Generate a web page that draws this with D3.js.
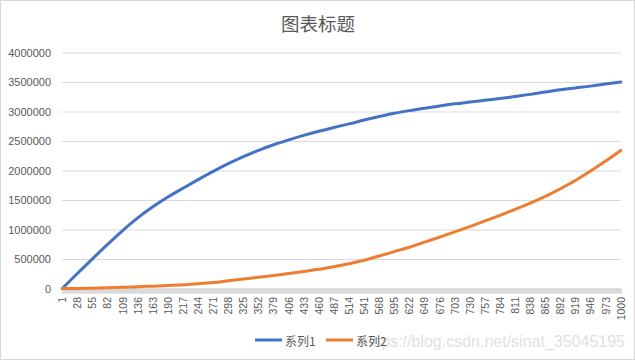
<!DOCTYPE html>
<html><head><meta charset="utf-8">
<script src="https://cdn.jsdelivr.net/npm/d3@7"></script>
<style>body{margin:0;background:#fff;overflow:hidden}</style>
</head><body><svg id="c" width="635" height="360"></svg>
<script>
const chartTitle = "图表标题";
const seriesNames = ["系列1", "系列2"];
const categoryCount = 1000;
const labelCategories = [1,28,55,82,109,136,163,190,217,244,271,298,325,352,379,406,433,460,487,514,541,568,595,622,649,676,703,730,757,784,811,838,865,892,919,946,973,1000];
const series1 = [0,255000,503000,748000,983000,1198000,1385000,1550000,1700000,1845000,1985000,2115000,2235000,2342000,2436000,2519000,2595000,2665000,2730000,2790000,2855000,2915000,2970000,3015000,3055000,3095000,3130000,3160000,3190000,3220000,3255000,3290000,3330000,3370000,3400000,3430000,3465000,3500000];
const series2 = [0,2000,6000,12000,20000,30000,40000,50000,65000,80000,100000,130000,160000,190000,220000,255000,290000,325000,370000,420000,480000,550000,625000,700000,785000,870000,960000,1050000,1145000,1240000,1340000,1445000,1560000,1690000,1830000,1990000,2160000,2340000];
const yTicks = [0,500000,1000000,1500000,2000000,2500000,3000000,3500000,4000000];
const colors = ["#4472C4", "#ED7D31"];
const watermark = "https://blog.csdn.net/sinat_35045195";

const svg = d3.select("#c");
const W = 635, H = 360;
const plotLeft = 62, plotRight = 621, plotTop = 52.5, plotBottom = 288.5;
const textColor = "#595959";
const gridColor = "#d9d9d9";

svg.append("rect").attr("x",0.5).attr("y",0.5).attr("width",W-1).attr("height",H-1)
  .attr("fill","#fff").attr("stroke","#d9d9d9");

const categories = d3.range(1, categoryCount + 1);
const x = d3.scaleBand().domain(categories).range([plotLeft, plotRight]).paddingInner(0).paddingOuter(0);
const bw = x.bandwidth();
const y = d3.scaleLinear().domain([0, 4000000]).range([plotBottom, plotTop]);

// gridlines + y labels
const yAxis = d3.axisLeft(y).tickValues(yTicks).tickSize(-(plotRight-plotLeft)).tickFormat(d3.format("d")).tickPadding(11);
const gy = svg.append("g").attr("transform",`translate(${plotLeft},0)`).call(yAxis);
gy.select(".domain").remove();
gy.selectAll(".tick line").attr("stroke", gridColor).attr("stroke-width",1);
gy.selectAll(".tick text").attr("fill", textColor).style("font-family","'Liberation Sans', Arial, sans-serif").style("font-size","11px");

// x tick band
const xTicks = d3.axisBottom(x).tickValues(categories).tickSize(5).tickFormat("");
const gxt = svg.append("g").attr("transform",`translate(0,${plotBottom})`).call(xTicks);
gxt.selectAll("text").remove();
gxt.select(".domain").attr("stroke", gridColor);
gxt.selectAll(".tick line").attr("stroke", gridColor);

// x labels
const xLabels = d3.axisBottom(x).tickValues(labelCategories).tickSize(0);
const gx = svg.append("g").attr("transform",`translate(0,${plotBottom})`).call(xLabels);
gx.select(".domain").remove();
gx.selectAll(".tick text")
  .attr("transform","rotate(-90)")
  .attr("x",-8.5).attr("y",0).attr("dy","0.35em")
  .style("text-anchor","end")
  .attr("fill", textColor)
  .style("font-family","'Liberation Sans', Arial, sans-serif").style("font-size","10.5px");

// lines
const line = d3.line()
  .x((d,i) => x(labelCategories[i]) + bw/2)
  .y(d => y(d))
  .curve(d3.curveMonotoneX);
[series1, series2].forEach((s, k) => {
  svg.append("path").datum(s).attr("d", line)
    .attr("fill","none").attr("stroke", colors[k]).attr("stroke-width",3)
    .attr("stroke-linejoin","round").attr("stroke-linecap","round");
});

// title
svg.append("text").attr("x", 318).attr("y", 23).attr("text-anchor","middle")
  .attr("dominant-baseline","central")
  .attr("fill", textColor).style("font-family","'Noto Sans CJK SC', sans-serif").style("font-size","18.5px")
  .text(chartTitle);

// watermark
svg.append("text").attr("x", 625).attr("y", 341).attr("text-anchor","end")
  .attr("dominant-baseline","central")
  .attr("fill", "#e0e0e0").style("font-family","'Liberation Sans', Arial, sans-serif").style("font-size","16px")
  .text(watermark);

// legend
const legendItems = [{x:255}, {x:326}];
legendItems.forEach((it, k) => {
  svg.append("line").attr("x1", it.x).attr("x2", it.x + 27).attr("y1", 340).attr("y2", 340)
    .attr("stroke", colors[k]).attr("stroke-width", 3);
  svg.append("text").attr("x", it.x + 30).attr("y", 340).attr("dominant-baseline","central")
    .attr("fill", textColor).style("font-family","'Noto Sans CJK SC', sans-serif").style("font-size","12px")
    .text(seriesNames[k]);
});
</script></body></html>
